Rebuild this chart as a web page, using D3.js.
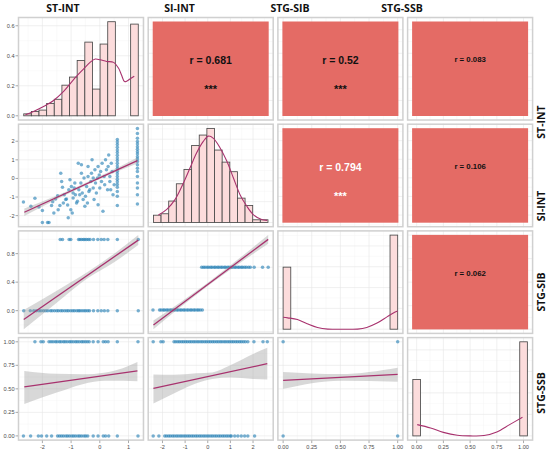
<!DOCTYPE html>
<html>
<head>
<meta charset="utf-8">
<script src="https://cdn.jsdelivr.net/npm/d3@7"></script>
<style>
  body { margin: 0; background: #fff; }
  svg { display: block; font-family: "Liberation Sans", Arial, sans-serif; }
  .tick-label { font-size: 5.6px; fill: #4d4d4d; }
  .strip { font-family: "Open Sans", sans-serif; font-weight: 700; font-size: 10.5px; fill: #111; }
</style>
</head>
<body>
<svg id="chart"></svg>
<script>
const VARS = ["ST-INT", "SI-INT", "STG-SIB", "STG-SSB"];

// Diagonal: histogram bar heights (density, 15 bins) and density curves
const stIntBinRange = [-2.65, 1.34];
const stIntBins = [0.013, 0.029, 0.038, 0.082, 0.110, 0.204, 0.258, 0.369, 0.491, 0.178, 0.478, 0.627, 0, 0, 0.611];
const stIntDensity = [[-2.59, 0.007], [-2.31, 0.029], [-1.96, 0.062], [-1.61, 0.102], [-1.26, 0.162], [-0.92, 0.240],
  [-0.57, 0.311], [-0.34, 0.356], [-0.16, 0.378], [0.01, 0.373], [0.24, 0.362], [0.48, 0.356], [0.65, 0.318],
  [0.76, 0.270], [0.86, 0.228], [0.95, 0.232], [1.05, 0.245], [1.20, 0.264]];

const siIntBinRange = [-2.40, 2.66];
const siIntBins = [0.035, 0.042, 0.103, 0.186, 0.255, 0.370, 0.420, 0.452, 0.348, 0.290, 0.244, 0.117, 0.082, 0.013, 0.013];
const siIntDensity = [[-2.18, 0.036], [-1.81, 0.063], [-1.44, 0.111], [-1.07, 0.191], [-0.78, 0.263], [-0.49, 0.335],
  [-0.19, 0.391], [0.03, 0.415], [0.25, 0.404], [0.54, 0.359], [0.84, 0.295], [1.13, 0.215], [1.42, 0.135],
  [1.72, 0.079], [2.01, 0.038], [2.38, 0.014], [2.62, 0.010]];

const sibBinRange = [0, 1];
const sibBins = [5.96, 0, 0, 0, 0, 0, 0, 0, 0, 0, 0, 0, 0, 0, 9.04];
const sibDensity = [[0, 1.15], [0.04, 1.09], [0.125, 0.93], [0.21, 0.53], [0.30, 0.17], [0.39, 0.01], [0.47, 0],
  [0.56, 0], [0.65, 0.01], [0.73, 0.17], [0.82, 0.59], [0.91, 1.21], [0.97, 1.60], [1, 1.75]];

const ssbBinRange = [-0.036, 1.036];
const ssbBins = [5.25, 0, 0, 0, 0, 0, 0, 0, 0, 0, 0, 0, 0, 0, 8.75];
const ssbDensity = [[0.005, 1.05], [0.13, 0.74], [0.25, 0.33], [0.38, 0.06], [0.50, 0], [0.63, 0.03],
  [0.75, 0.37], [0.87, 1.05], [0.99, 1.73]];

// Lower: ST-INT vs SI-INT scatter
const scatterStInt = [-2.66, -2.40, -2.26, -2.12, -2.00, -2.00, -1.82, -1.77, -1.68, -1.64, -1.60, -1.54, -1.45, -1.47,
  -1.39, -1.36, -1.33, -1.30, -1.27, -1.24, -1.19, -1.16, -1.12, -1.10, -1.08, -1.04, -1.01, -0.99, -0.96, -0.93,
  -0.93, -0.89, -0.87, -0.85, -0.81, -0.78, -0.75, -0.73, -0.70, -0.66, -0.64, -0.64, -0.61, -0.58, -0.55, -0.52,
  -0.50, -0.46, -0.43, -0.41, -0.41, -0.38, -0.35, -0.31, -0.29, -0.27, -0.23, -0.23, -0.20, -0.17, -0.15, -0.12,
  -0.08, -0.06, -0.06, -0.02, 0.00, 0.03, 0.06, 0.08, 0.11, 0.15, 0.17, 0.20, 0.23, 0.27, 0.29, 0.31, 0.35, 0.35,
  0.38, 0.40, 0.43, 0.46, 0.50];
const scatterSiInt = [-1.27, -1.50, -1.07, -1.53, -1.73, -2.37, -2.37, -2.37, -1.46, -1.25, -1.86, -1.11, -1.68, -0.93,
  -1.46, 0.28, -0.16, -0.48, -1.32, -0.88, -1.14, -1.11, -1.43, -2.12, -0.61, -0.07, -1.68, -0.43, -1.86, -1.05,
  -0.79, -0.52, -0.25, -0.88, -1.32, -1.23, 0.82, -0.61, -0.88, -0.25, 0.28, 0.73, -0.79, -1.14, 0.02, -1.50,
  -0.96, -0.43, -1.32, 0.64, 0.11, -0.70, -0.61, -0.16, 0.28, 1.00, -0.52, 0.02, -1.14, 0.46, -0.25, -0.79,
  0.02, 0.64, -1.41, 0.19, -0.52, 0.37, -0.16, 0.82, -1.77, 0.11, -0.34, 1.00, 0.46, -0.61, 0.64, 1.26, 0.11, -0.16,
  -0.61, 0.82, 0.37, -0.88, -0.34];
// vertical stacks of SI-INT at two ST-INT levels
const stackStInt = [0.61, 1.31];
const stackSiInt = [
  [2.10, 1.96, 1.82, 1.68, 1.53, 1.39, 1.25, 1.10, 0.96, 0.82, 0.67, 0.53, 0.39, 0.25, 0.11, -0.04, -0.18, -0.32, -0.47, -0.70, -0.96, -1.46],
  [2.69, 2.42, 2.16, 1.98, 1.85, 1.71, 1.57, 1.44, 1.32, 1.17, 1.05, 0.91, 0.73, 0.55, 0.37, 0.11, -0.25, -0.52, -0.88, -1.37]
];

// Lower: binary outcomes (x values at 0 / at 1)
const sibZeroSt = [-2.65, -2.42, -2.30, -2.21, -2.12, -2.05, -1.96, -1.88, -1.81, -1.72, -1.66, -1.58, -1.50, -1.44, -1.36,
  -1.30, -1.22, -1.15, -1.09, -1.01, -0.94, -0.88, -0.80, -0.74, -0.69, -0.62, -0.55, -0.49, -0.42, -0.36, -0.22,
  -0.07, 0.05, 0.16, 0.28, 0.61, 1.34];
const sibOneSt = [-1.38, -1.30, -1.07, -1.01, -0.74, -0.69, -0.63, -0.57, -0.52, -0.46, -0.40, -0.34, -0.22, -0.07, 0.05,
  0.15, 0.28, 0.61, 1.34];
const sibZeroSi = [-2.42, -2.13, -2.06, -1.97, -1.91, -1.82, -1.76, -1.67, -1.61, -1.52, -1.46, -1.37, -1.31, -1.22, -1.16,
  -1.07, -1.01, -0.92, -0.86, -0.77, -0.71, -0.62, -0.56, -0.47, -0.41, -0.33, -0.24];
const sibOneSi = [-0.27, -0.19, -0.12, -0.03, 0.04, 0.13, 0.19, 0.28, 0.34, 0.43, 0.49, 0.58, 0.64, 0.73, 0.79, 0.88, 0.94,
  1.03, 1.09, 1.18, 1.24, 1.33, 1.39, 1.48, 1.54, 1.63, 1.70, 1.80, 1.88, 2.05, 2.42, 2.67];
const ssbZeroSt = [-2.66, -2.41, -2.14, -2.03, -1.85, -1.68, -1.47, -1.40, -1.33, -1.26, -1.18, -1.12, -1.05, -0.97, -0.91,
  -0.84, -0.76, -0.70, -0.63, -0.55, -0.49, -0.42, -0.23, -0.06, 0.12, 0.20, 0.31, 0.61, 1.33];
const ssbOneSt = [-2.26, -2.05, -1.97, -1.77, -1.70, -1.63, -1.55, -1.49, -1.41, -1.35, -1.27, -1.21, -1.14, -1.06, -1.00,
  -0.93, -0.85, -0.79, -0.72, -0.64, -0.58, -0.51, -0.44, -0.37, -0.23, -0.06, 0.12, 0.20, 0.29, 0.61, 1.33];
const ssbZeroSi = [-2.41, -2.16, -1.90, -1.82, -1.73, -1.65, -1.56, -1.48, -1.39, -1.31, -1.22, -1.14, -1.05, -0.97, -0.88,
  -0.80, -0.71, -0.63, -0.54, -0.46, -0.37, -0.29, -0.20, -0.12, -0.03, 0.05, 0.14, 0.22, 0.31, 0.39, 0.48, 0.56,
  0.65, 0.73, 0.82, 0.90, 0.99, 1.04, 1.19, 1.33, 1.48, 1.63, 1.77, 2.07];
const ssbOneSi = [-2.41, -2.07, -1.97, -1.49, -1.41, -1.32, -1.24, -1.15, -1.07, -0.98, -0.90, -0.81, -0.73, -0.64, -0.56,
  -0.47, -0.39, -0.30, -0.22, -0.13, -0.05, 0.04, 0.12, 0.21, 0.29, 0.38, 0.46, 0.55, 0.63, 0.72, 0.80, 0.89, 0.97,
  1.06, 1.14, 1.23, 1.31, 1.40, 1.48, 1.57, 1.66, 1.77, 2.04, 2.44, 2.63];
const sibSsbX = [0, 0, 1, 1];
const sibSsbY = [0, 1, 0, 1];

// Fitted lines [[x0,y0],[x1,y1]] and confidence bands [x, lo, hi]
const stSiLine  = [[-2.63, -1.82], [1.31, 0.96]];
const stSiBand  = [[-2.63, -2.02, -1.62], [-1.6, -1.20, -0.99], [-0.6, -0.46, -0.31], [0.2, 0.10, 0.26], [1.31, 0.80, 1.12]];
const stSibLine = [[-2.65, -0.124], [1.34, 0.99]];
const stSibBand = [[-2.65, -0.26, 0.01], [-1.5, 0.11, 0.28], [-0.4, 0.46, 0.55], [0.5, 0.68, 0.80], [1.34, 0.92, 1.06]];
const siSibLine = [[-2.40, -0.345], [2.67, 1.65]];
const siSibBand = [[-2.40, -0.445, -0.245], [0, 0.56, 0.64], [2.67, 1.55, 1.75]];
const stSsbLine = [[-2.63, 0.52], [1.31, 0.69]];
const stSsbBand = [[-2.63, 0.34, 0.69], [-1.5, 0.46, 0.66], [-0.6, 0.55, 0.655], [0.2, 0.585, 0.675], [0.8, 0.585, 0.72], [1.31, 0.58, 0.785]];
const siSsbLine = [[-2.40, 0.505], [2.63, 0.767]];
const siSsbBand = [[-2.40, 0.343, 0.653], [-1.5, 0.45, 0.65], [-0.5, 0.56, 0.665], [0.2, 0.605, 0.675], [1.0, 0.62, 0.75], [2.0, 0.605, 0.87], [2.63, 0.60, 0.936]];
const sibSsbLine = [[0, 0.59], [1, 0.654]];
const sibSsbBand = [[0, 0.50, 0.68], [0.5, 0.587, 0.657], [1, 0.576, 0.724]];

// Upper: correlations
const corrCells  = [[0, 1], [0, 2], [0, 3], [1, 2], [1, 3], [2, 3]];
const corrValues = ["0.681", "0.52", "0.083", "0.794", "0.106", "0.062"];
const corrStars  = ["***", "***", "", "***", "", ""];

// Tick labels
const stIntTicks = [-2, -1, 0, 1];
const siIntTicks = [-2, -1, 0, 1, 2];
const binTicks   = [0, 0.25, 0.5, 0.75, 1];
const densTicks  = [0, 0.2, 0.4, 0.6];
const sibYTicks  = [0, 0.4, 0.8];

// ---- layout ----
const W = 550, H = 452;
const PX0 = 18, PY0 = 17, P_W = 126, P_H = 103.5, STEP_X = 129.7, STEP_Y = 106.7;
const TOP_STRIP_X = [63, 179.5, 290, 402];
const RIGHT_STRIP_Y = [122, 206, 292, 393];

const PT_COLOR   = "#2580b5";
const LINE_COLOR = "#a8326e";
const HIST_FILL  = "#fcdcdc";
const CORR_FILL  = "#e46b65";

function expand([a, b], m = 0.05) {
  const r = b - a;
  return [a - m * r, b + m * r];
}
function fmtInt(v) { return String(v); }
const fmt1 = d3.format(".1f");
const fmt2 = d3.format(".2f");

const svg = d3.select("#chart").attr("width", W).attr("height", H);

const diag = [
  { range: stIntBinRange, bins: stIntBins, dens: stIntDensity },
  { range: siIntBinRange, bins: siIntBins, dens: siIntDensity },
  { range: sibBinRange,   bins: sibBins,   dens: sibDensity },
  { range: ssbBinRange,   bins: ssbBins,   dens: ssbDensity }
];
const colTicks = [stIntTicks, siIntTicks, binTicks, binTicks];
const colFmt   = [fmtInt, fmtInt, fmt2, fmt2];
const rowTicks = [densTicks, siIntTicks, sibYTicks, binTicks];
const rowFmt   = [fmt1, fmtInt, fmt1, fmt2];

const xScales = diag.map((d) => d3.scaleLinear().domain(expand(d.range)).range([0, P_W]));

function pairs(xs, ys) { return xs.map((x, i) => ({ x, y: ys[i] })); }
function atLevel(xs, level) { return xs.map((x) => ({ x, y: level })); }

const lower = {
  "1-0": {
    pts: pairs(scatterStInt, scatterSiInt).concat(
      ...stackStInt.map((sx, k) => stackSiInt[k].map((y) => ({ x: sx, y })))),
    line: stSiLine, band: stSiBand, yTicks: siIntTicks
  },
  "2-0": { pts: atLevel(sibZeroSt, 0).concat(atLevel(sibOneSt, 1)), line: stSibLine, band: stSibBand, yTicks: sibYTicks },
  "2-1": { pts: atLevel(sibZeroSi, 0).concat(atLevel(sibOneSi, 1)), line: siSibLine, band: siSibBand, yTicks: null },
  "3-0": { pts: atLevel(ssbZeroSt, 0).concat(atLevel(ssbOneSt, 1)), line: stSsbLine, band: stSsbBand, yTicks: binTicks },
  "3-1": { pts: atLevel(ssbZeroSi, 0).concat(atLevel(ssbOneSi, 1)), line: siSsbLine, band: siSsbBand, yTicks: binTicks },
  "3-2": { pts: pairs(sibSsbX, sibSsbY), line: sibSsbLine, band: sibSsbBand, yTicks: binTicks }
};

function minorOf(ticks, domain) {
  if (ticks.length < 2) return [];
  const step = ticks[1] - ticks[0];
  const out = [ticks[0] - step / 2];
  for (let i = 0; i < ticks.length - 1; i++) out.push((ticks[i] + ticks[i + 1]) / 2);
  out.push(ticks[ticks.length - 1] + step / 2);
  return out.filter((v) => v > domain[0] && v < domain[1]);
}

function drawGrid(g, x, y, xt, yt) {
  const grid = g.append("g");
  const xd = x.domain(), yd = y.domain();
  const lines = [
    ...minorOf(xt, xd).map((v) => ({ o: "v", p: x(v), minor: true })),
    ...minorOf(yt, yd).map((v) => ({ o: "h", p: y(v), minor: true })),
    ...xt.filter((v) => v >= xd[0] && v <= xd[1]).map((v) => ({ o: "v", p: x(v), minor: false })),
    ...yt.filter((v) => v >= yd[0] && v <= yd[1]).map((v) => ({ o: "h", p: y(v), minor: false }))
  ];
  grid.selectAll("line").data(lines).enter().append("line")
    .attr("x1", (d) => (d.o === "v" ? d.p : 0))
    .attr("x2", (d) => (d.o === "v" ? d.p : P_W))
    .attr("y1", (d) => (d.o === "h" ? d.p : 0))
    .attr("y2", (d) => (d.o === "h" ? d.p : P_H))
    .attr("stroke", (d) => (d.minor ? "#f3f3f3" : "#e6e6e6"))
    .attr("stroke-width", (d) => (d.minor ? 0.45 : 0.6));
}

const panelY = [[], [], [], []];
const curve = d3.line().curve(d3.curveCatmullRom);

for (let r = 0; r < 4; r++) {
  for (let c = 0; c < 4; c++) {
    const g = svg.append("g")
      .attr("transform", `translate(${PX0 + c * STEP_X},${PY0 + r * STEP_Y})`);
    const clipId = `clip-${r}-${c}`;
    g.append("clipPath").attr("id", clipId)
      .append("rect").attr("width", P_W).attr("height", P_H);
    g.append("rect").attr("width", P_W).attr("height", P_H).attr("fill", "#fff");

    const x = xScales[c];
    let y, yt;

    if (r === c) {
      const d = diag[c];
      const ymax = d3.max([...d.bins, ...d.dens.map((p) => p[1])]);
      y = d3.scaleLinear().domain(expand([0, ymax])).range([P_H, 0]);
      yt = r === 0 ? densTicks : y.ticks(4);
      drawGrid(g, x, y, colTicks[c], yt);
      const body = g.append("g").attr("clip-path", `url(#${clipId})`);
      const bw = (d.range[1] - d.range[0]) / d.bins.length;
      body.selectAll("rect.bar").data(d.bins).enter().append("rect")
        .attr("class", "bar")
        .attr("x", (h, i) => x(d.range[0] + i * bw))
        .attr("width", (h, i) => x(d.range[0] + (i + 1) * bw) - x(d.range[0] + i * bw))
        .attr("y", (h) => y(h))
        .attr("height", (h) => y(0) - y(h))
        .attr("fill", HIST_FILL)
        .attr("stroke", "#4a4a4a")
        .attr("stroke-width", 0.85);
      body.append("path")
        .attr("d", curve(d.dens.map((p) => [x(p[0]), y(p[1])])))
        .attr("fill", "none")
        .attr("stroke", LINE_COLOR)
        .attr("stroke-width", 1.1);
    } else if (r > c) {
      const spec = lower[`${r}-${c}`];
      const ext = d3.extent([
        ...spec.pts.map((p) => p.y),
        ...spec.band.flatMap((b) => [b[1], b[2]]),
        ...spec.line.map((p) => p[1])
      ]);
      y = d3.scaleLinear().domain(expand(ext)).range([P_H, 0]);
      yt = spec.yTicks || y.ticks(4);
      drawGrid(g, x, y, colTicks[c], yt);
      const body = g.append("g").attr("clip-path", `url(#${clipId})`);
      body.selectAll("circle").data(spec.pts).enter().append("circle")
        .attr("cx", (p) => x(p.x))
        .attr("cy", (p) => y(p.y))
        .attr("r", 1.75)
        .attr("fill", PT_COLOR)
        .attr("fill-opacity", 0.62);
      body.append("path")
        .attr("d", d3.area()
          .x((b) => x(b[0])).y0((b) => y(b[1])).y1((b) => y(b[2]))
          .curve(d3.curveMonotoneX)(spec.band))
        .attr("fill", "#999")
        .attr("fill-opacity", 0.38);
      body.append("line")
        .attr("x1", x(spec.line[0][0])).attr("y1", y(spec.line[0][1]))
        .attr("x2", x(spec.line[1][0])).attr("y2", y(spec.line[1][1]))
        .attr("stroke", LINE_COLOR)
        .attr("stroke-width", 1.3);
    } else {
      y = d3.scaleLinear().domain(xScales[r].domain()).range([P_H, 0]);
      yt = colTicks[r];
      drawGrid(g, x, y, colTicks[c], yt);
    }

    g.append("rect")
      .attr("x", 0.5).attr("y", 0.5)
      .attr("width", P_W - 1).attr("height", P_H - 1)
      .attr("fill", "none")
      .attr("stroke", "#d0d0d0")
      .attr("stroke-width", 1.5);

    panelY[r][c] = y;
  }
}

// Correlation tiles
corrCells.forEach(([r, c], i) => {
  const g = svg.append("g")
    .attr("transform", `translate(${PX0 + c * STEP_X},${PY0 + r * STEP_Y})`);
  const inset = 5;
  g.append("rect")
    .attr("x", inset).attr("y", inset - 0.5)
    .attr("width", P_W - 2 * inset).attr("height", P_H - 2 * inset + 1)
    .attr("fill", CORR_FILL);
  const signif = corrStars[i] !== "";
  const color = corrValues[i] === "0.794" ? "#fff" : "#111";
  g.append("text")
    .attr("x", P_W / 2)
    .attr("y", P_H * 0.415)
    .attr("text-anchor", "middle")
    .attr("dominant-baseline", "central")
    .attr("font-size", signif ? 10.5 : 7.8)
    .attr("font-weight", 700)
    .attr("fill", color)
    .text(`r = ${corrValues[i]}`);
  if (signif) {
    g.append("text")
      .attr("x", P_W / 2)
      .attr("y", P_H * 0.70)
      .attr("text-anchor", "middle")
      .attr("dominant-baseline", "central")
      .attr("font-size", 11)
      .attr("font-weight", 700)
      .attr("fill", color)
      .text(corrStars[i]);
  }
});

// Left axis labels
for (let r = 0; r < 4; r++) {
  const y = panelY[r][0];
  const top = PY0 + r * STEP_Y;
  const ax = svg.append("g");
  rowTicks[r].forEach((v) => {
    ax.append("line")
      .attr("x1", PX0 - 2.5).attr("x2", PX0)
      .attr("y1", top + y(v)).attr("y2", top + y(v))
      .attr("stroke", "#555").attr("stroke-width", 0.5);
    ax.append("text")
      .attr("class", "tick-label")
      .attr("x", PX0 - 3.5)
      .attr("y", top + y(v))
      .attr("text-anchor", "end")
      .attr("dominant-baseline", "central")
      .text(rowFmt[r](v));
  });
}

// Bottom axis labels
for (let c = 0; c < 4; c++) {
  const x = xScales[c];
  const left = PX0 + c * STEP_X;
  const bottom = PY0 + 3 * STEP_Y + P_H;
  const ax = svg.append("g");
  colTicks[c].forEach((v) => {
    ax.append("line")
      .attr("x1", left + x(v)).attr("x2", left + x(v))
      .attr("y1", bottom).attr("y2", bottom + 2.5)
      .attr("stroke", "#555").attr("stroke-width", 0.5);
    ax.append("text")
      .attr("class", "tick-label")
      .attr("x", left + x(v))
      .attr("y", bottom + 8.5)
      .attr("text-anchor", "middle")
      .text(colFmt[c](v));
  });
}

// Strip labels
VARS.forEach((name, i) => {
  svg.append("text")
    .attr("class", "strip")
    .attr("x", TOP_STRIP_X[i])
    .attr("y", 12)
    .attr("text-anchor", "middle")
    .text(name);
  svg.append("text")
    .attr("class", "strip")
    .attr("transform", `translate(541,${RIGHT_STRIP_Y[i]}) rotate(-90)`)
    .attr("text-anchor", "middle")
    .attr("dominant-baseline", "central")
    .text(name);
});
</script>
</body>
</html>
